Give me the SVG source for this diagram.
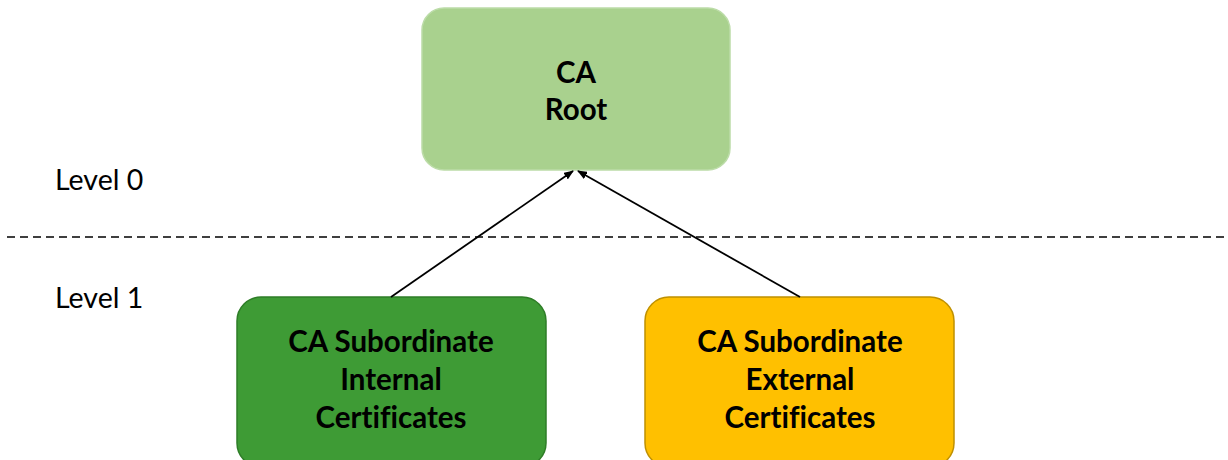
<svg xmlns="http://www.w3.org/2000/svg" width="1228" height="460" viewBox="0 0 1228 460">
  <defs>
    <marker id="arrow" markerWidth="10" markerHeight="8" refX="9" refY="4" orient="auto" markerUnits="userSpaceOnUse">
      <path d="M0,0 L10,4 L0,8 Z" fill="#000"/>
    </marker>
    <style>
      text { font-variant-ligatures: none; }
      .box-label { font-family: "Lato", "Open Sans", sans-serif; font-weight: bold; font-size: 29.5px; fill: #000; text-anchor: middle; }
      .level { font-family: "Lato", "Open Sans", sans-serif; font-size: 28.5px; fill: #000; }
      .conn { stroke: #000; stroke-width: 1.8; fill: none; marker-end: url(#arrow); }
    </style>
  </defs>
  <rect width="1228" height="460" fill="#fff"/>

  <!-- level divider -->
  <line x1="7" y1="237" x2="1228" y2="237" stroke="#000" stroke-width="1.5" stroke-dasharray="8,5"/>
  <text class="level" x="55" y="190">Level 0</text>
  <text class="level" x="55" y="308">Level 1</text>

  <g id="node-root">
    <rect x="422" y="8" width="308" height="162" rx="22" fill="#a9d18e" stroke="#bcdca8" stroke-width="1.5"/>
    <text class="box-label" x="576" y="83">CA</text>
    <text class="box-label" x="576" y="120">Root</text>
  </g>

  <g id="node-internal">
    <rect x="237" y="297" width="309" height="170" rx="24" fill="#3e9b35" stroke="#2e7d27" stroke-width="1.5"/>
    <text class="box-label" x="391" y="352">CA Subordinate</text>
    <text class="box-label" x="391" y="390">Internal</text>
    <text class="box-label" x="391" y="428">Certificates</text>
  </g>

  <g id="node-external">
    <rect x="645" y="297" width="309" height="170" rx="24" fill="#ffc000" stroke="#bf9000" stroke-width="1.5"/>
    <text class="box-label" x="800" y="352">CA Subordinate</text>
    <text class="box-label" x="800" y="390">External</text>
    <text class="box-label" x="800" y="428">Certificates</text>
  </g>

  <g id="connectors">
    <line class="conn" x1="391" y1="297" x2="573" y2="171"/>
    <line class="conn" x1="800" y1="297" x2="578" y2="171"/>
  </g>
</svg>
